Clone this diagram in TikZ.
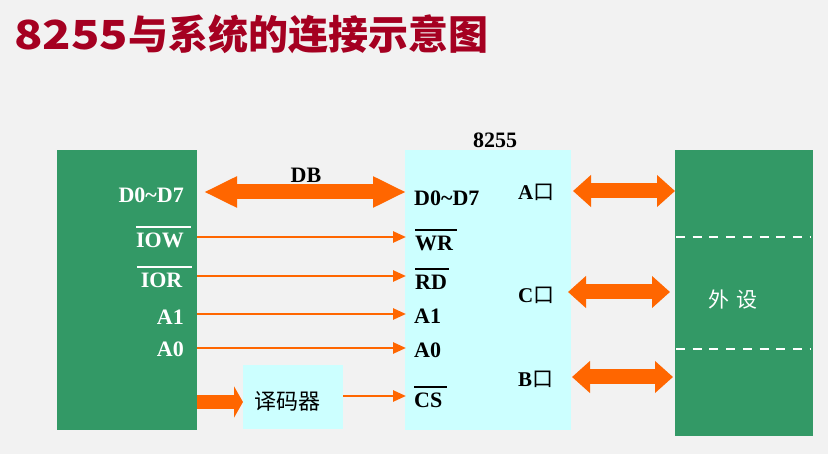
\documentclass[tikz,border=0pt]{standalone}
\usepackage{fontspec}
\usepackage{graphicx}
\setmainfont{Liberation Serif}
\newfontfamily\cjk{Noto Sans CJK SC}
\usetikzlibrary{arrows.meta}
\definecolor{bgc}{HTML}{F2F2F2}
\definecolor{grn}{HTML}{339966}
\definecolor{cyn}{HTML}{CCFFFF}
\definecolor{org}{HTML}{FF6600}
\definecolor{ttl}{HTML}{A50021}
\tikzset{
  box/.style={draw=none, inner sep=0pt, outer sep=0pt},
  greenbox/.style={box, fill=grn},
  cyanbox/.style={box, fill=cyn},
  wlab/.style={text=white, font=\fontsize{22}{22}\selectfont\bfseries, inner sep=0pt, anchor=base east},
  blab/.style={text=black, font=\fontsize{22}{22}\selectfont\bfseries, inner sep=0pt, anchor=base west},
  plab/.style={text=black, font=\fontsize{21}{21}\selectfont\bfseries, inner sep=0pt, anchor=base west},
  sig/.style={draw=org, line width=2.6pt, -{Triangle[length=13pt,width=11pt]}},
  bigdb/.style={draw=org, line width=15pt, {Triangle[length=33pt,width=29pt]}-{Triangle[length=33pt,width=29pt]}},
  bigport/.style={draw=org, line width=15pt, {Triangle[length=18pt,width=31pt]}-{Triangle[length=18pt,width=31pt]}},
  bigin/.style={draw=org, line width=14pt, -{Triangle[length=9pt,width=31pt]}},
  sep/.style={draw=white, line width=2pt, dash pattern=on 9pt off 7.7pt}
}
\newsavebox{\ovlbox}
\newcommand{\ovlw}[2]{\leavevmode\sbox{\ovlbox}{#2}\ht\ovlbox=15pt\vbox{\offinterlineskip\hbox{\vrule height 2.2pt depth 0pt width #1}\kern 5pt\copy\ovlbox}}
\begin{document}
\begin{tikzpicture}[x=1pt,y=-1pt]
\fill[bgc] (0,0) rectangle (828,454);
\useasboundingbox (0,0) rectangle (828,454);

% title
\node[anchor=base west, inner sep=0pt, text=ttl, font=\cjk\bfseries\fontsize{40}{40}\selectfont] (title) at (14,50) {\scalebox{1.17}[1]{8255}与系统的连接示意图};

% boxes
\node[greenbox, minimum width=140pt, minimum height=280pt] (host) at (127,290) {};
\node[cyanbox, minimum width=166pt, minimum height=280pt] (ppi) at (488,290) {};
\node[greenbox, minimum width=138pt, minimum height=286pt] (dev) at (744,293) {};
\node[cyanbox, minimum width=100pt, minimum height=64pt] (dec) at (293,397) {};

% captions
\node[inner sep=0pt, anchor=base, font=\fontsize{22}{22}\selectfont\bfseries] (cap) at (495,148) {8255};
\node[inner sep=0pt, anchor=base, font=\fontsize{22}{22}\selectfont\bfseries] (db) at (306,183) {DB};
\node[inner sep=0pt, text=white, font=\cjk\fontsize{21}{21}\selectfont] (wai) at (733,300) {外\hspace{7pt}设};
\node[inner sep=0pt, font=\cjk\fontsize{22}{22}\selectfont] (yima) at (287,401) {译码器};

% left labels
\node[wlab] (l1) at (184,203) {D0\char`~D7};
\node[wlab] (l2) at (192,248) {\ovlw{55pt}{IOW\hspace{8pt}}};
\node[wlab] (l3) at (192,288) {\ovlw{55pt}{\hspace{4pt}IOR\hspace{9pt}}};
\node[wlab] (l4) at (184,325) {A1};
\node[wlab] (l5) at (184,357) {A0};

% right labels
\node[blab] (r1) at (414,206) {D0\char`~D7};
\node[blab] (r2) at (415,251) {\ovlw{42pt}{WR}};
\node[blab] (r3) at (415,290) {\ovlw{34pt}{RD}};
\node[blab] (r4) at (414,324) {A1};
\node[blab] (r5) at (414,358) {A0};
\node[blab] (r6) at (414,408) {\ovlw{33pt}{CS}};

% port labels
\node[plab] (pa) at (518,200) {A{\cjk\mdseries 口}};
\node[plab] (pc) at (518,303) {C{\cjk\mdseries 口}};
\node[plab] (pb) at (518,387) {B{\cjk\mdseries 口}};

% arrow levels
\coordinate (ydb) at (0,192);
\coordinate (yiow) at (0,237);
\coordinate (yior) at (0,276);
\coordinate (ya1) at (0,314);
\coordinate (ya0) at (0,348);
\coordinate (ycs) at (0,396);
\coordinate (yin) at (0,402);
\coordinate (ypa) at (0,191);
\coordinate (ypc) at (0,292);
\coordinate (ypb) at (0,377);

% connectors
\draw[bigdb] ([xshift=7pt]host.east |- ydb) -- ([xshift=1pt]ppi.west |- ydb);
\draw[sig] (host.east |- yiow) -- ([xshift=1pt]ppi.west |- yiow);
\draw[sig] (host.east |- yior) -- ([xshift=1pt]ppi.west |- yior);
\draw[sig] (host.east |- ya1) -- ([xshift=1pt]ppi.west |- ya1);
\draw[sig] (host.east |- ya0) -- ([xshift=1pt]ppi.west |- ya0);
\draw[sig] (dec.east |- ycs) -- ([xshift=1pt]ppi.west |- ycs);
\draw[bigin] (host.east |- yin) -- (dec.west |- yin);
\draw[bigport] ([xshift=2pt]ppi.east |- ypa) -- (dev.west |- ypa);
\draw[bigport] ([xshift=-3pt]ppi.east |- ypc) -- ([xshift=-5pt]dev.west |- ypc);
\draw[bigport] ([xshift=1pt]ppi.east |- ypb) -- ([xshift=-2pt]dev.west |- ypb);

% dashed separators
\coordinate (s1) at (0,237);
\coordinate (s2) at (0,349);
\draw[sep] ([xshift=1pt]dev.west |- s1) -- ([xshift=-3pt]dev.east |- s1);
\draw[sep] ([xshift=1pt]dev.west |- s2) -- ([xshift=-3pt]dev.east |- s2);
\end{tikzpicture}
\end{document}
